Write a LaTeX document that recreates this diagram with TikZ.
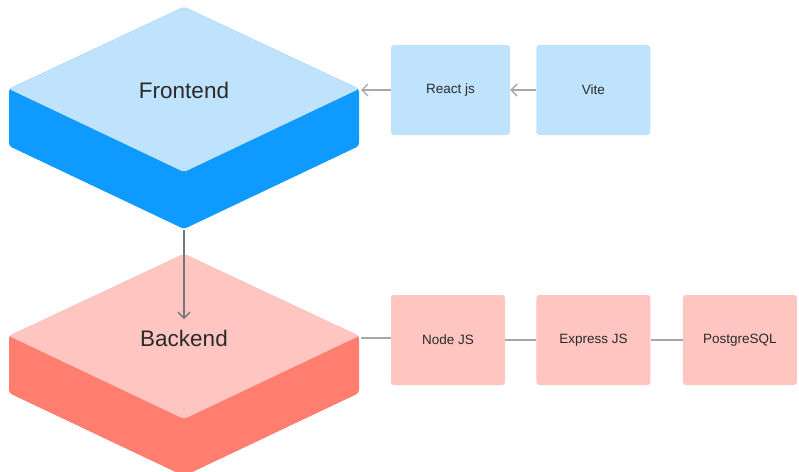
\documentclass[tikz,border=0pt]{standalone}
\usepackage{fontspec}
\setmainfont{Liberation Sans}
\usetikzlibrary{positioning,arrows.meta}

\definecolor{frontface}{HTML}{BFE3FD}
\definecolor{frontside}{HTML}{0E9AFF}
\definecolor{backface}{HTML}{FFC5C0}
\definecolor{backside}{HTML}{FF7E70}
\definecolor{labelgray}{HTML}{2A2A2A}
\definecolor{linkgray}{HTML}{A8A8A8}
\definecolor{arrowgray}{HTML}{767676}

% isometrische Platte: #1,#2 = Mitte der Oberseite, #3 = Farbe oben, #4 = Farbe Seite
\newcommand{\slab}[4]{%
	\fill[#4,rounded corners=3pt] (#1-175,#2) -- (#1,#2-82) -- (#1+175,#2)
	-- (#1+175,#2+57) -- (#1,#2+140) -- (#1-175,#2+57) -- cycle;
	\fill[#3,rounded corners=3pt] (#1-175,#2) -- (#1,#2-82) -- (#1+175,#2)
	-- (#1,#2+83) -- cycle;
}

\begin{document}
\begin{tikzpicture}[x=1pt,y=-1pt,
	box/.style={rounded corners=3pt,minimum width=114pt,minimum height=90pt,
		inner sep=0pt,text=labelgray,font=\fontsize{13.5}{15}\selectfont},
	slabtext/.style={text=labelgray,font=\fontsize{22.5}{26}\selectfont},
	link/.style={linkgray,line width=1.3pt},
	arr/.style={link,-{Straight Barb[length=6pt,width=12pt]}}]
	\clip (0,0) rectangle (799,471);
	\fill[white] (0,0) rectangle (799,471);
	
	% die beiden Platten
	\slab{184}{89}{frontface}{frontside}
	\slab{184}{336}{backface}{backside}
	\node[slabtext] (front) at (184,90) {Frontend};
	\node[slabtext] (back) at (184,338) {Backend};
	
	% Andockpunkte
	\coordinate (fR) at (361,90);
	\coordinate (fB) at (184,230);
	\coordinate (bTop) at (184,319);
	\coordinate (bR) at (361,338);
	
	% Frontend-Kette
	\node[box,fill=frontface,minimum width=119pt] (react) at (450.5,90) {React js};
	\node[box,fill=frontface,right=26pt of react] (vite) {Vite};
	
	% Backend-Kette
	\node[box,fill=backface] (nodejs) at (448,340) {Node JS};
	\node[box,fill=backface,right=31pt of nodejs] (express) {Express JS};
	\node[box,fill=backface,right=32pt of express] (pg) {PostgreSQL};
	
	% Verbindungen
	\draw[arr] (react.west) -- (fR);
	\draw[arr] (vite) -- (react);
	\draw[arr,arrowgray] (fB) -- (bTop);
	\draw[link] (bR) -- (bR -| nodejs.west);
	\draw[link] (nodejs) -- (express);
	\draw[link] (express) -- (pg);
	
\end{tikzpicture}
\end{document}
